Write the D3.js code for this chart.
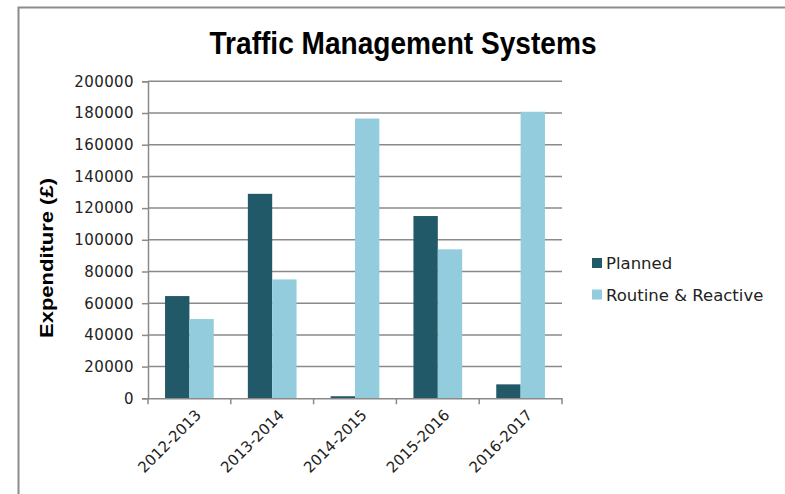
<!DOCTYPE html>
<html>
<head>
<meta charset="utf-8">
<script src="https://cdn.jsdelivr.net/npm/d3@7"></script>
<style>
  body { margin: 0; background: #fff; }
</style>
</head>
<body>
<div id="chart"></div>
<script>
var width = 785;
var height = 494;

// data
var years = ["2012-2013", "2013-2014", "2014-2015", "2015-2016", "2016-2017"];
var planned = [64500, 129000, 1300, 115000, 8800];
var routine = [50000, 75000, 176500, 94000, 180800];
var seriesNames = ["Planned", "Routine & Reactive"];
var seriesColors = ["#215968", "#93cddd"];
var yTicks = [0, 20000, 40000, 60000, 80000, 100000, 120000, 140000, 160000, 180000, 200000];

var svg = d3.select("#chart")
   .append("svg")
   .attr("width", width)
   .attr("height", height);

// outer frame
svg.append("path")
   .attr("d", "M18.5 " + height + " L18.5 7.5 L" + width + " 7.5")
   .attr("fill", "none")
   .attr("stroke", "#8c8c8c")
   .attr("stroke-width", 2);

var plotLeft = 148, plotRight = 562, plotTop = 81.3, plotBottom = 398.3;

var x = d3.scaleBand()
   .domain(years)
   .range([plotLeft, plotRight]);

var inner = d3.scaleBand()
   .domain([0, 1])
   .range([0, x.bandwidth()])
   .paddingOuter(0.7)
   .paddingInner(0);

var y = d3.scaleLinear()
   .domain([0, 200000])
   .range([plotBottom, plotTop]);

// gridlines
svg.append("g")
   .selectAll("line")
   .data(yTicks.slice(1))
   .enter()
   .append("line")
   .attr("x1", plotLeft)
   .attr("x2", plotRight)
   .attr("y1", function(d){ return y(d); })
   .attr("y2", function(d){ return y(d); })
   .attr("stroke", "#8a8a8a")
   .attr("stroke-width", 1.5);

// bars
var rows = years.map(function(yr, i){ return {year: yr, vals: [planned[i], routine[i]]}; });

var groups = svg.append("g")
   .selectAll("g")
   .data(rows)
   .enter()
   .append("g")
   .attr("transform", function(d){ return "translate(" + x(d.year) + ",0)"; });

groups.selectAll("rect")
   .data(function(d){ return d.vals; })
   .enter()
   .append("rect")
   .attr("x", function(d, i){ return inner(i); })
   .attr("width", inner.bandwidth())
   .attr("y", function(d){ return y(d); })
   .attr("height", function(d){ return plotBottom - y(d); })
   .attr("fill", function(d, i){ return seriesColors[i]; });

// y axis
var yAxis = svg.append("g")
   .attr("transform", "translate(" + plotLeft + ",0)")
   .call(d3.axisLeft(y).tickValues(yTicks).tickSize(6).tickPadding(8).tickFormat(d3.format("d")));

yAxis.select(".domain").attr("stroke", "#8a8a8a").attr("stroke-width", 1.5);
yAxis.selectAll(".tick line").attr("stroke", "#8a8a8a").attr("stroke-width", 1.5);
yAxis.selectAll(".tick text")
   .attr("fill", "#222")
   .style("font-family", "'DejaVu Sans', sans-serif")
   .style("font-size", "15px")
   .style("letter-spacing", "0.4px");

// x axis
var xAxis = svg.append("g")
   .attr("transform", "translate(0," + plotBottom + ")")
   .call(d3.axisBottom(x).tickSize(0).tickFormat(""));

xAxis.select(".domain").attr("stroke", "#8a8a8a").attr("stroke-width", 1.5);

svg.append("g")
   .selectAll("line")
   .data(years.concat(["end"]))
   .enter()
   .append("line")
   .attr("x1", function(d, i){ return i < years.length ? x(d) : plotRight; })
   .attr("x2", function(d, i){ return i < years.length ? x(d) : plotRight; })
   .attr("y1", plotBottom)
   .attr("y2", plotBottom + 6)
   .attr("stroke", "#8a8a8a")
   .attr("stroke-width", 1.5);

svg.append("g")
   .selectAll("text")
   .data(years)
   .enter()
   .append("text")
   .attr("transform", function(d){
      return "translate(" + (x(d) + x.bandwidth() / 2 + 9) + "," + (plotBottom + 14) + ") rotate(-45)";
   })
   .attr("text-anchor", "end")
   .attr("dy", "0.35em")
   .attr("fill", "#222")
   .style("font-family", "'DejaVu Sans', sans-serif")
   .style("font-size", "15px")
   .text(function(d){ return d; });

// title
svg.append("text")
   .attr("x", 403)
   .attr("y", 54)
   .attr("text-anchor", "middle")
   .attr("textLength", 387)
   .attr("lengthAdjust", "spacingAndGlyphs")
   .style("font-family", "'Liberation Sans', Arial, sans-serif")
   .style("font-weight", "bold")
   .style("font-size", "31px")
   .text("Traffic Management Systems");

// y label
svg.append("text")
   .attr("transform", "translate(53,258) rotate(-90)")
   .attr("text-anchor", "middle")
   .attr("textLength", 160)
   .attr("lengthAdjust", "spacingAndGlyphs")
   .style("font-family", "'Liberation Sans', Arial, sans-serif")
   .style("font-weight", "bold")
   .style("font-size", "19px")
   .text("Expenditure (£)");

// legend
var legend = svg.append("g")
   .selectAll("g")
   .data(seriesNames)
   .enter()
   .append("g")
   .attr("transform", function(d, i){ return "translate(592," + (258 + i * 31.5) + ")"; });

legend.append("rect")
   .attr("width", 10)
   .attr("height", 10)
   .attr("fill", function(d, i){ return seriesColors[i]; });

legend.append("text")
   .attr("x", 14)
   .attr("y", 11)
   .attr("fill", "#222")
   .style("font-family", "'DejaVu Sans', sans-serif")
   .style("font-size", "16.5px")
   .text(function(d){ return d; });
</script>
</body>
</html>
